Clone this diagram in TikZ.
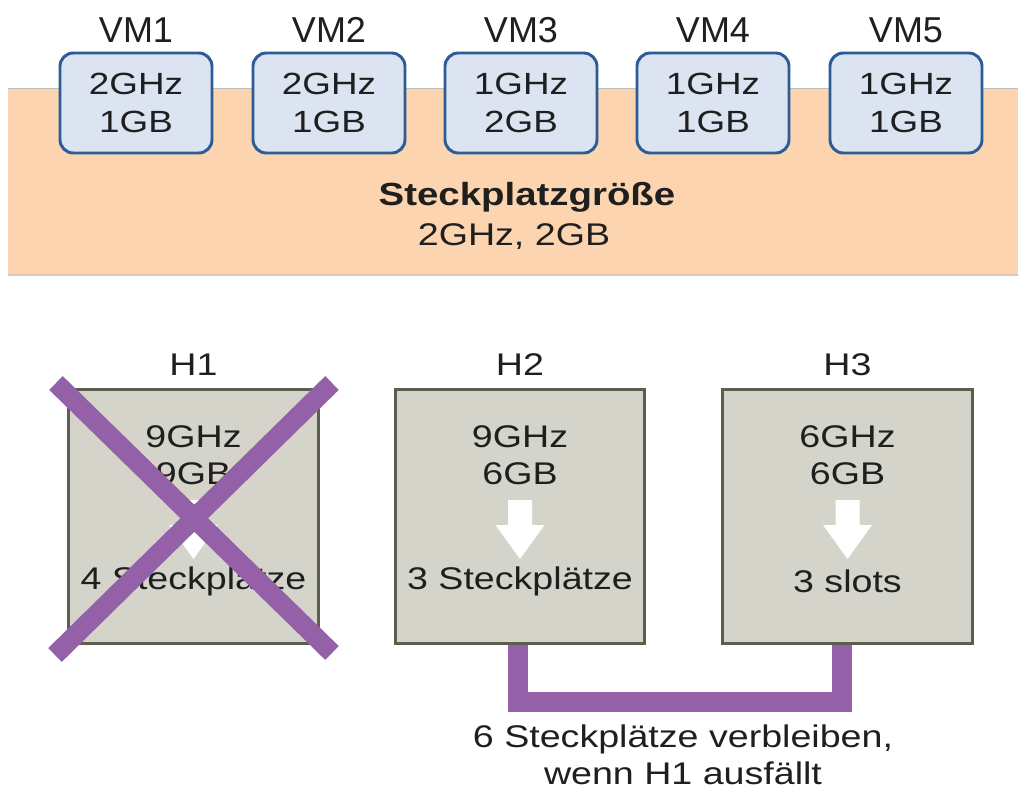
\documentclass[tikz,border=0pt]{standalone}
\usepackage{fontspec}
\setmainfont[FakeStretch=1.2]{Liberation Sans}
\newfontfamily\plainsans{Liberation Sans}
\definecolor{peach}{HTML}{FCD5B0}
\definecolor{peachline}{HTML}{D8C8BC}
\definecolor{vmfill}{HTML}{DCE4F2}
\definecolor{vmline}{HTML}{2B5C96}
\definecolor{hostfill}{HTML}{D4D4CB}
\definecolor{hostline}{HTML}{5E5E4E}
\definecolor{xpurple}{HTML}{9461A8}
\begin{document}
\begin{tikzpicture}[x=0.75pt,y=-0.75pt,
  txt/.style={font=\fontsize{23.5}{27.5}\selectfont, text=black!88, align=center, inner sep=0pt},
  vmlabel/.style={font=\plainsans\fontsize{27}{30}\selectfont, text=black!88, inner sep=0pt},
  vmbox/.style={draw=vmline, line width=2.2pt, fill=vmfill, rounded corners=10pt,
    minimum width=114pt, minimum height=75pt, txt, font=\fontsize{23}{28}\selectfont},
  hostbox/.style={draw=hostline, line width=2.2pt, fill=hostfill,
    minimum width=187pt, minimum height=190pt, inner sep=0pt},
  purp/.style={draw=xpurple, line width=14.5pt},
  bigarrow/.style={fill=white, draw=none}
]
\useasboundingbox (0,0) rectangle (1018,796);
% peach band
\fill[peach] (8,88) rectangle (1018,275);
\draw[peachline, line width=1pt] (8,275) -- (1018,275);
\draw[black!25, line width=0.6pt] (8,88) -- (1018,88);

% VMs
\foreach \i/\x/\a/\b in {1/136/2GHz/1GB, 2/329/2GHz/1GB, 3/521/1GHz/2GB, 4/713/1GHz/1GB, 5/906/1GHz/1GB}{
  \node[vmbox] (vm\i) at (\x,103) {\a\\\b};
  \node[vmlabel] (vml\i) at (\x,30) {VM\i};
}
\node[txt, font=\fontsize{24}{27.5}\selectfont\bfseries] (slott) at (527,197) {Steckplatzgröße};
\node[txt] (slotv) at (514,237) {2GHz, 2GB};

% connector
\coordinate (c2) at (518,702);
\coordinate (c3) at (842,702);
\draw[purp, line join=miter] (518,640) -- (c2) -- (c3) -- (842,640);

% hosts
\foreach \i/\x/\a/\b/\c in {1/193.5/9GHz/9GB/4 Steckplätze, 2/520/9GHz/6GB/3 Steckplätze, 3/847.5/6GHz/6GB/3 slots}{
  \node[hostbox] (h\i) at (\x,516.5) {};
  \node[txt] (hl\i) at (\x,365) {H\i};
  \node[txt] (hr\i) at (\x,455.5) {\a\\\b};
  \node[txt] (hs\i) at (\x,581) {\c};
  \fill[bigarrow] (\x-12,500) -- (\x+12,500) -- (\x+12,525) -- (\x+24.5,525)
     -- (\x,559) -- (\x-24.5,525) -- (\x-12,525) -- cycle;
}
% cross over H1
\draw[purp, line cap=butt] (56,383) -- (332,653);
\draw[purp, line cap=butt] (332,383) -- (55,655);

\node[txt] (note) at (683,755) {6 Steckplätze verbleiben,\\wenn H1 ausfällt};
\end{tikzpicture}
\end{document}
